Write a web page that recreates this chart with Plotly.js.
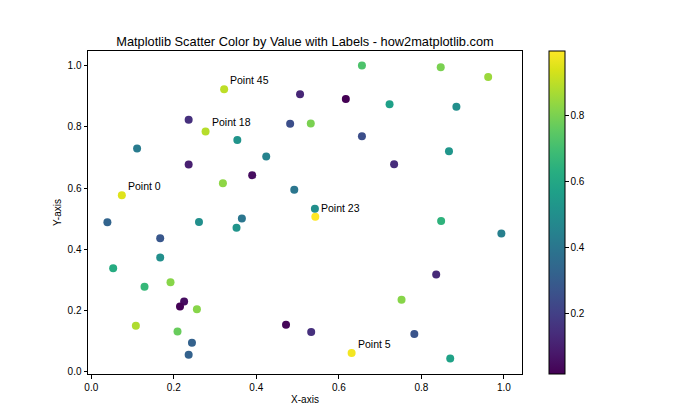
<!DOCTYPE html>
<html>
<head>
<meta charset="utf-8">
<script src="https://cdn.plot.ly/plotly-3.0.1.min.js"></script>
<style>body{margin:0;padding:0;background:#fff;}#chart{width:700px;height:420px;}</style>
</head>
<body>
<div id="chart"></div>
<script>
// Data (index order chosen so labelled points keep their indices)
const xValues = [
  0.074, 0.506, 0.236, 0.482, 0.354, 0.631, 0.111, 0.424, 0.236, 0.390,
  0.319, 0.492, 0.656, 0.847, 0.962, 0.617, 0.723, 0.885, 0.277, 0.532,
  0.656, 0.867, 0.734, 0.543, 0.542, 0.039, 0.261, 0.365, 0.352, 0.167,
  0.167, 0.053, 0.192, 0.129, 0.225, 0.215, 0.256, 0.108, 0.472, 0.209,
  0.244, 0.236, 0.848, 0.994, 0.836, 0.322, 0.752, 0.533, 0.783, 0.870
];
const yValues = [
  0.576, 0.907, 0.823, 0.810, 0.757, 0.061, 0.729, 0.703, 0.677, 0.642,
  0.616, 0.594, 1.001, 0.995, 0.963, 0.891, 0.874, 0.866, 0.785, 0.811,
  0.769, 0.720, 0.678, 0.506, 0.532, 0.488, 0.489, 0.500, 0.470, 0.436,
  0.373, 0.338, 0.292, 0.277, 0.229, 0.213, 0.204, 0.150, 0.153, 0.131,
  0.094, 0.055, 0.492, 0.451, 0.317, 0.923, 0.235, 0.129, 0.123, 0.043
];
const colorValues = [
  0.95, 0.12, 0.15, 0.25, 0.52, 0.98, 0.42, 0.45, 0.10, 0.05,
  0.83, 0.40, 0.72, 0.80, 0.85, 0.017, 0.57, 0.50, 0.89, 0.80,
  0.25, 0.53, 0.14, 0.996, 0.50, 0.33, 0.50, 0.40, 0.52, 0.28,
  0.50, 0.62, 0.82, 0.67, 0.05, 0.02, 0.82, 0.88, 0.03, 0.77,
  0.32, 0.32, 0.65, 0.44, 0.13, 0.90, 0.82, 0.15, 0.27, 0.58
];
const labelledIndices = [0, 5, 18, 23, 45];
const xTicks = [0.0, 0.2, 0.4, 0.6, 0.8, 1.0];
const yTicks = [0.0, 0.2, 0.4, 0.6, 0.8, 1.0];
const cbarTicks = [0.2, 0.4, 0.6, 0.8];

const FONT = "Liberation Sans, Arial, sans-serif";

const trace = {
  type: 'scatter',
  mode: 'markers',
  x: xValues,
  y: yValues,
  marker: {
    size: 8,
    color: colorValues,
    colorscale: 'Viridis',
    cmin: Math.min(...colorValues),
    cmax: Math.max(...colorValues),
    line: {width: 0},
    showscale: true,
    colorbar: {
      x: 1.063, xanchor: 'left', xref: 'paper',
      y: 0.5, yanchor: 'middle', len: 1.0, lenmode: 'fraction',
      thickness: 16, thicknessmode: 'pixels',
      outlinewidth: 1, outlinecolor: '#000',
      xpad: 0, ypad: 0,
      tickvals: cbarTicks, ticktext: cbarTicks.map(v => v.toFixed(1)),
      ticks: 'outside', ticklen: 3.5, tickwidth: 1, tickcolor: '#000',
      tickfont: {family: FONT, size: 10, color: '#000'}
    }
  },
  hoverinfo: 'none'
};

const annotations = labelledIndices.map(i => ({
  x: xValues[i], y: yValues[i], xref: 'x', yref: 'y',
  text: 'Point ' + i, showarrow: false,
  xanchor: 'left', yanchor: 'bottom', xshift: 4, yshift: 1,
  font: {family: FONT, size: 10.5, color: '#000'}
}));

const axisCommon = {
  showgrid: false, zeroline: false,
  showline: true, linecolor: '#000', linewidth: 1, mirror: true,
  ticks: 'outside', ticklen: 3.5, tickwidth: 1, tickcolor: '#000',
  tickfont: {family: FONT, size: 10, color: '#000'}
};

const layout = {
  width: 700, height: 420,
  margin: {l: 88, r: 178, t: 51, b: 46, pad: 0},
  paper_bgcolor: '#fff', plot_bgcolor: '#fff',
  showlegend: false,
  title: {
    text: 'Matplotlib Scatter Color by Value with Labels - how2matplotlib.com',
    font: {family: FONT, size: 12.8, color: '#000'},
    x: 0.5, xref: 'paper', xanchor: 'center',
    y: 1, yref: 'paper', yanchor: 'bottom', pad: {b: 5}
  },
  xaxis: Object.assign({}, axisCommon, {
    range: [-0.008, 1.044],
    tickvals: xTicks, ticktext: xTicks.map(v => v.toFixed(1)),
    title: {text: 'X-axis', font: {family: FONT, size: 10, color: '#000'}, standoff: 4}
  }),
  yaxis: Object.assign({}, axisCommon, {
    range: [-0.008, 1.048],
    tickvals: yTicks, ticktext: yTicks.map(v => v.toFixed(1)),
    title: {text: 'Y-axis', font: {family: FONT, size: 10, color: '#000'}, standoff: 4}
  }),
  annotations: annotations
};

Plotly.newPlot('chart', [trace], layout, {staticPlot: true, displayModeBar: false});
</script>
</body>
</html>
